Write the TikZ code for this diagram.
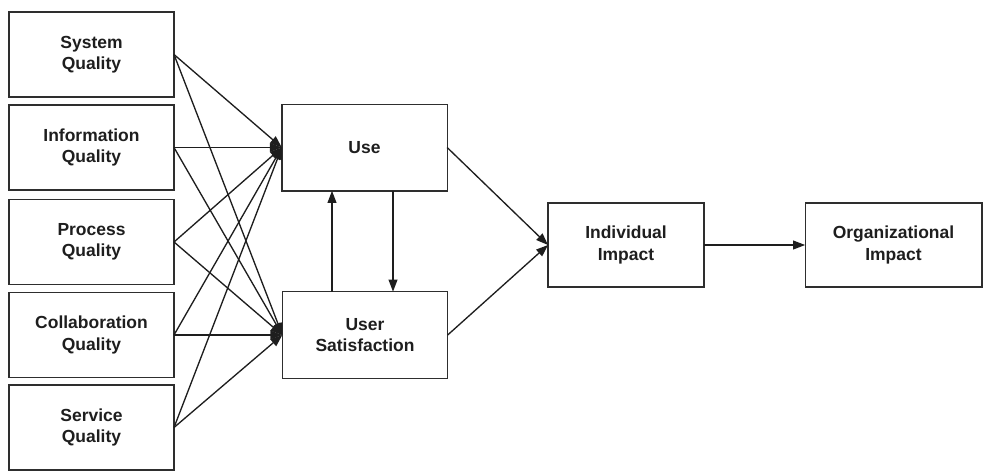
\documentclass[tikz,border=0pt]{standalone}
\usepackage{fontspec}
\setmainfont{Liberation Sans}
\usepackage{xcolor}
\usepackage{tikz}
\usetikzlibrary{arrows.meta,positioning,calc}
\definecolor{cInk}{HTML}{1E1E1E}
\definecolor{cEdge}{HTML}{2E2E2E}
\tikzset{
  dbox/.style={draw=cEdge,fill=white,line width=1pt,align=center,inner sep=3pt,outer sep=0pt,
    font=\fontsize{13.1}{16}\selectfont\bfseries,text=cInk},
  qbox/.style={dbox,minimum width=123.75pt,minimum height=63.75pt},
  mbox/.style={dbox,minimum width=124pt,minimum height=65pt},
  ibox/.style={dbox,minimum width=#1,minimum height=63pt},
  arr/.style={-{Triangle[length=9pt,width=6.6pt]},line width=1pt,color=cInk},
}

\begin{document}
\begin{tikzpicture}[x=0.75pt,y=-0.75pt]
  \useasboundingbox (0,0) rectangle (984,471); % keep the reference frame
  % quality dimensions
  \node[qbox] (sys)  at (91.5,54.5)  {System\\Quality};
  \node[qbox] (inf)  at (91.5,147.5) {Information\\Quality};
  \node[qbox] (proc) at (91.5,242)   {Process\\Quality};
  \node[qbox] (coll) at (91.5,335)   {Collaboration\\Quality};
  \node[qbox] (serv) at (91.5,427.5) {Service\\Quality};
  % use and satisfaction
  \node[mbox] (use) at (364.5,147.5) {Use};
  \node[mbox] (us)  at (365,335)     {User\\Satisfaction};
  % impacts
  \node[ibox=117pt]   (ind) at (626,245)   {Individual\\Impact};
  \node[ibox=132.5pt] (org) at (893.5,245) {Organizational\\Impact};
  \foreach \q in {sys,inf,proc,coll,serv}{
    \draw[arr] (\q.east) -- (use.west);
    \draw[arr] (\q.east) -- (us.west);
  }
  \draw[arr] (332,0 |- us.north) -- (332,0 |- use.south);
  \draw[arr] (393,0 |- use.south) -- (393,0 |- us.north);
  \draw[arr] (use.east) -- (ind.west);
  \draw[arr] (us.east) -- (ind.west);
  \draw[arr] (ind) -- (org);
\end{tikzpicture}
\end{document}
